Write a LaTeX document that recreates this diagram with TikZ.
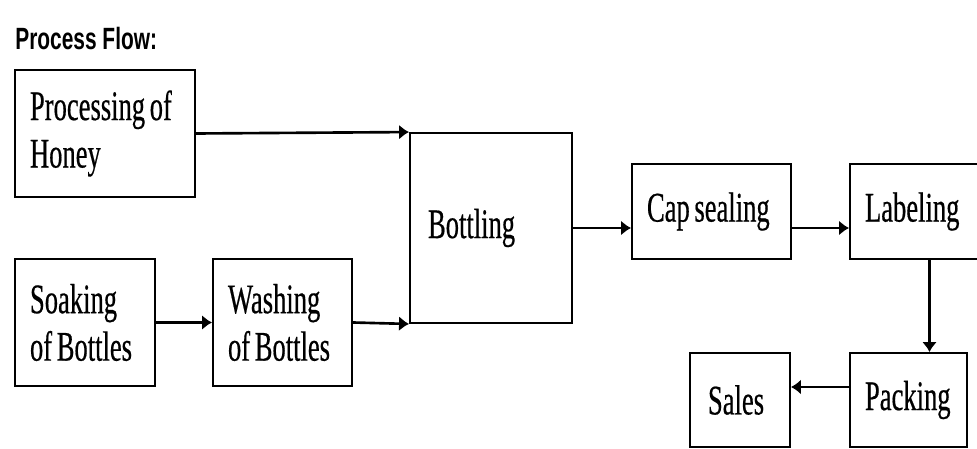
\documentclass[tikz,border=0pt]{standalone}
\usepackage{fontspec}
\setmainfont{Liberation Serif}[FakeStretch=0.63, FakeBold=0.4, WordSpace=0.7]
\newfontfamily\titlefont{Liberation Sans}[FakeStretch=0.68]
\usetikzlibrary{arrows.meta}

\tikzset{
  stage/.style={draw, line width=1.1pt, align=flush left, inner xsep=0.3cm, inner ysep=0pt,
    font=\fontsize{24}{27}\selectfont},
  flow/.style={line width=1.5pt, -{Latex[length=2mm,width=3mm]}}
}

\begin{document}
\begin{tikzpicture}[x=0.02cm, y=-0.02cm]
        \useasboundingbox (0,0) rectangle (977,449);
        \clip (0,0) rectangle (977,449);
        \node[anchor=base west, inner sep=0, font=\titlefont\bfseries\fontsize{17.5}{20}\selectfont] (title) at (15,50) {Process Flow:};
        \node[stage, text width=3.0cm, minimum height=2.54cm] (honey) at (105,133.5) {Processing of\\Honey};
        \node[stage, text width=2.2cm, minimum height=2.54cm] (soak) at (85,322.5) {Soaking\\of Bottles};
        \node[stage, text width=2.18cm, minimum height=2.54cm] (wash) at (282.5,322.5) {Washing\\of Bottles};
        \node[stage, text width=2.52cm, inner xsep=0.36cm, minimum height=3.8cm] (bottle) at (491,228) {Bottling};
        \node[stage, text width=2.58cm, minimum height=1.9cm] (cap) at (711.5,211.5) {Cap sealing};
        \node[stage, text width=2.58cm, minimum height=1.9cm] (label) at (929.5,211.5) {Labeling};
        \node[stage, text width=1.74cm, minimum height=1.88cm] (pack) at (908.5,400) {Packing};
        \node[stage, text width=1.28cm, inner xsep=0.36cm, minimum height=1.88cm] (sales) at (740,400) {Sales};
        \draw[flow] (honey.east) -- (bottle.north west);
        \draw[flow] (soak.east) -- (wash.west);
        \draw[flow] (wash.east) -- (bottle.south west);
        \draw[flow] (bottle.east) -- (bottle.east -| cap.west);
        \draw[flow] (bottle.east -| cap.east) -- (bottle.east -| label.west);
        \draw[flow] (label.south) -- (label.south |- pack.north);
        \draw[flow, line width=1pt] ([yshift=0.26cm]pack.west) -- ([yshift=0.26cm]sales.east);
    \end{tikzpicture}
\end{document}
